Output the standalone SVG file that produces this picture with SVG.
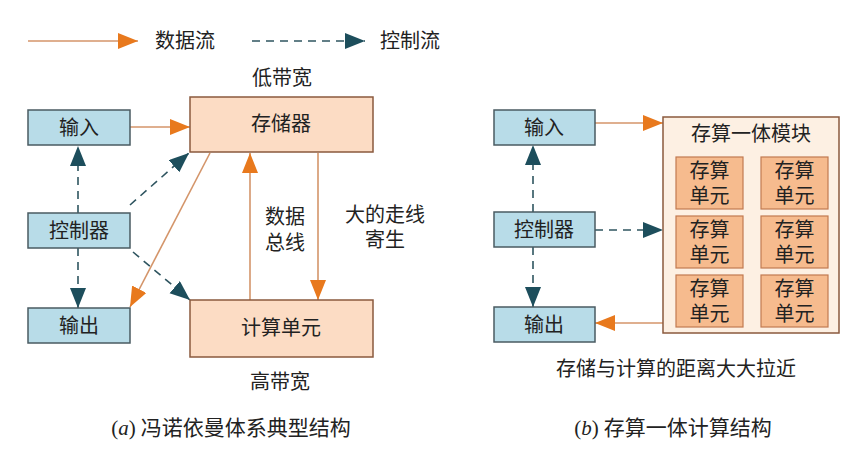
<svg xmlns="http://www.w3.org/2000/svg" width="865" height="451" viewBox="0 0 865 451">
<style>
  text{font-family:"Liberation Serif","Noto Sans CJK SC",serif;fill:#222;text-anchor:middle;dominant-baseline:central}
  .t20{font-size:20px}
  .cap{font-size:21px}
  .blue{fill:#b8dce8;stroke:#4a5b62;stroke-width:1.5}
  .peach{fill:#fcdcc4;stroke:#8a5a3e;stroke-width:1.5}
  .module{fill:#fdf0e3;stroke:#8a5a3e;stroke-width:1.5}
  .cell{fill:#f6bb8e;stroke:#c27a50;stroke-width:1.2}
  .data{stroke:#d4956a;stroke-width:1.6;fill:none;marker-end:url(#ao)}
  .ctrl{stroke:#2f5560;stroke-width:1.6;fill:none;stroke-dasharray:8 6;marker-end:url(#at)}
</style>
<defs>
  <marker id="ao" markerUnits="userSpaceOnUse" markerWidth="22" markerHeight="18" refX="20" refY="8" orient="auto">
    <path d="M0,0 L20,8 L0,16 z" fill="#e8791d"/>
  </marker>
  <marker id="at" markerUnits="userSpaceOnUse" markerWidth="22" markerHeight="18" refX="20" refY="8" orient="auto">
    <path d="M0,0 L20,8 L0,16 z" fill="#1d4e5c"/>
  </marker>
</defs>
<rect width="865" height="451" fill="#ffffff"/>

<g id="legend">
  <line x1="28" y1="41" x2="138" y2="41" class="data"/>
  <text x="185" y="41" class="t20">数据流</text>
  <line x1="252" y1="41" x2="365" y2="41" class="ctrl"/>
  <text x="410" y="41" class="t20">控制流</text>
</g>

<g id="connectors">
  <line x1="130" y1="127" x2="190" y2="127" class="data"/>
  <line x1="78" y1="213" x2="78" y2="146" class="ctrl"/>
  <line x1="78" y1="248" x2="78" y2="308" class="ctrl"/>
  <line x1="130" y1="205" x2="189" y2="153" class="ctrl"/>
  <line x1="133" y1="252" x2="190" y2="300" class="ctrl"/>
  <line x1="210" y1="153" x2="130" y2="307" class="data"/>
  <line x1="250" y1="300" x2="250" y2="153" class="data"/>
  <line x1="318" y1="153" x2="318" y2="300" class="data"/>

  <line x1="595" y1="123" x2="663" y2="123" class="data"/>
  <line x1="595" y1="230" x2="663" y2="230" class="ctrl"/>
  <line x1="663" y1="323" x2="595" y2="323" class="data"/>
  <line x1="533" y1="212" x2="533" y2="145" class="ctrl"/>
  <line x1="533" y1="247" x2="533" y2="307" class="ctrl"/>
</g>

<g id="a-input"><rect x="28" y="110" width="102" height="35" class="blue"/><text x="79" y="128" class="t20">输入</text></g>
<g id="a-controller"><rect x="28" y="213" width="102" height="35" class="blue"/><text x="79" y="231" class="t20">控制器</text></g>
<g id="a-output"><rect x="28" y="308" width="102" height="35" class="blue"/><text x="79" y="326" class="t20">输出</text></g>
<g id="a-memory"><rect x="190" y="97" width="183" height="55" class="peach"/><text x="281" y="124" class="t20">存储器</text></g>
<g id="a-compute"><rect x="190" y="300" width="183" height="57" class="peach"/><text x="281" y="328" class="t20">计算单元</text></g>

<g id="a-labels">
  <text x="282" y="78" class="t20">低带宽</text>
  <text x="285" y="217" class="t20">数据</text>
  <text x="285" y="243" class="t20">总线</text>
  <text x="385" y="215" class="t20">大的走线</text>
  <text x="385" y="240" class="t20">寄生</text>
  <text x="280" y="382" class="t20">高带宽</text>
  <text x="231" y="428" class="cap"><tspan>(</tspan><tspan font-style="italic">a</tspan><tspan>) 冯诺依曼体系典型结构</tspan></text>
</g>

<g id="b-input"><rect x="494" y="110" width="101" height="35" class="blue"/><text x="544" y="128" class="t20">输入</text></g>
<g id="b-controller"><rect x="494" y="212" width="101" height="35" class="blue"/><text x="544" y="230" class="t20">控制器</text></g>
<g id="b-output"><rect x="494" y="307" width="101" height="35" class="blue"/><text x="544" y="325" class="t20">输出</text></g>

<g id="b-module">
  <rect x="663" y="117" width="176" height="216" class="module"/>
  <text x="751" y="134" class="t20">存算一体模块</text>
  <rect x="676" y="157" width="67" height="52" class="cell"/>
  <text x="709.5" y="171" class="t20">存算</text><text x="709.5" y="196" class="t20">单元</text>
  <rect x="761" y="157" width="67" height="52" class="cell"/>
  <text x="794.5" y="171" class="t20">存算</text><text x="794.5" y="196" class="t20">单元</text>
  <rect x="676" y="216" width="67" height="52" class="cell"/>
  <text x="709.5" y="230" class="t20">存算</text><text x="709.5" y="255" class="t20">单元</text>
  <rect x="761" y="216" width="67" height="52" class="cell"/>
  <text x="794.5" y="230" class="t20">存算</text><text x="794.5" y="255" class="t20">单元</text>
  <rect x="676" y="275" width="67" height="52" class="cell"/>
  <text x="709.5" y="289" class="t20">存算</text><text x="709.5" y="314" class="t20">单元</text>
  <rect x="761" y="275" width="67" height="52" class="cell"/>
  <text x="794.5" y="289" class="t20">存算</text><text x="794.5" y="314" class="t20">单元</text>
</g>

<g id="b-labels">
  <text x="676" y="369" class="t20">存储与计算的距离大大拉近</text>
  <text x="673" y="428" class="cap"><tspan>(</tspan><tspan font-style="italic">b</tspan><tspan>) 存算一体计算结构</tspan></text>
</g>
</svg>
